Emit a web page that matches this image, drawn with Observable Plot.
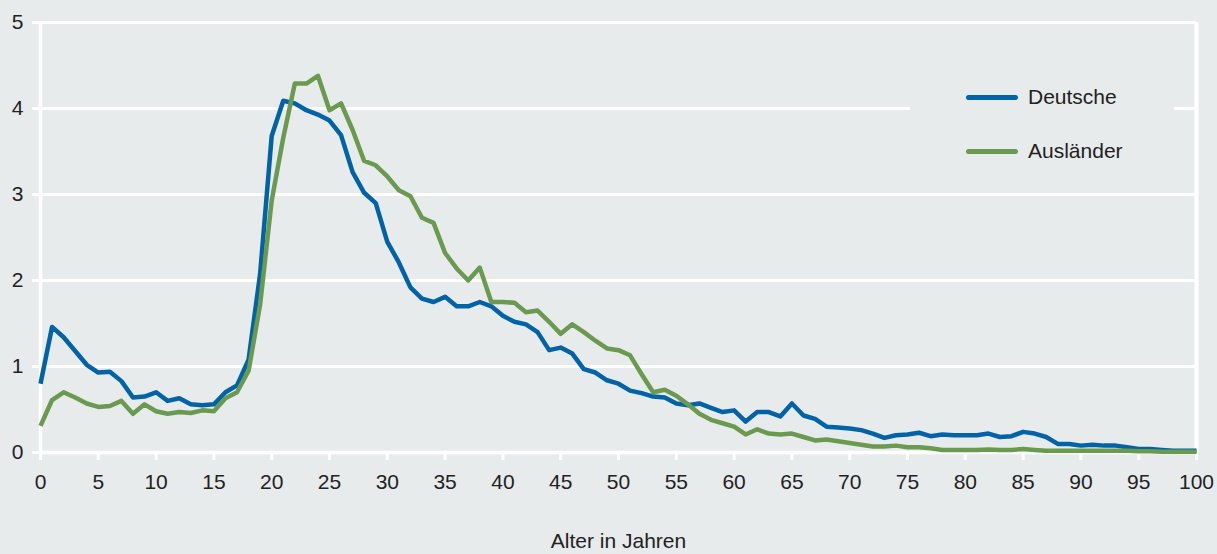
<!DOCTYPE html>
<html>
<head>
<meta charset="utf-8">
<script src="https://cdn.jsdelivr.net/npm/d3@7"></script>
<script src="https://cdn.jsdelivr.net/npm/@observablehq/plot@0.6"></script>
<style>
  html, body { margin: 0; padding: 0; background: #e8ebec; }
  body { width: 1217px; height: 554px; overflow: hidden; font-family: "Liberation Sans", Arial, sans-serif; }
  #wrap { position: relative; width: 1217px; height: 554px; }
  #legend { position: absolute; left: 910px; top: 66px; width: 264px; height: 116px; background: #e8ebec; }
  .item { position: absolute; left: 56px; height: 24px; display: flex; align-items: center; font-size: 21px; color: #222; }
  .swatch { width: 52px; height: 5px; border-radius: 3px; margin-right: 10px; }
</style>
</head>
<body>
<div id="wrap"></div>
<script>
const ages = [0,1,2,3,4,5,6,7,8,9,10,11,12,13,14,15,16,17,18,19,20,21,22,23,24,25,26,27,28,29,30,31,32,33,34,35,36,37,38,39,40,41,42,43,44,45,46,47,48,49,50,51,52,53,54,55,56,57,58,59,60,61,62,63,64,65,66,67,68,69,70,71,72,73,74,75,76,77,78,79,80,81,82,83,84,85,86,87,88,89,90,91,92,93,94,95,96,97,98,99,100];

const deutsche = [0.80,1.46,1.34,1.18,1.02,0.93,0.94,0.83,0.64,0.65,
  0.70,0.60,0.63,0.56,0.55,0.56,0.70,0.78,1.08,2.08,
  3.68,4.09,4.06,3.98,3.93,3.86,3.69,3.26,3.02,2.90,
  2.45,2.21,1.92,1.79,1.75,1.81,1.70,1.70,1.75,1.70,
  1.59,1.52,1.49,1.40,1.19,1.22,1.15,0.97,0.93,0.84,
  0.80,0.72,0.69,0.65,0.64,0.57,0.55,0.57,0.52,0.47,
  0.49,0.36,0.47,0.47,0.42,0.57,0.43,0.39,0.30,0.29,
  0.28,0.26,0.22,0.17,0.20,0.21,0.23,0.19,0.21,0.20,
  0.20,0.20,0.22,0.18,0.19,0.24,0.22,0.18,0.10,0.10,
  0.08,0.09,0.08,0.08,0.06,0.04,0.04,0.03,0.02,0.02,0.02];

const auslaender = [0.31,0.61,0.70,0.64,0.57,0.53,0.54,0.60,0.45,0.56,
  0.48,0.45,0.47,0.46,0.49,0.48,0.63,0.70,0.95,1.72,
  2.93,3.66,4.29,4.29,4.38,3.98,4.06,3.75,3.39,3.34,
  3.21,3.05,2.98,2.73,2.67,2.32,2.14,2.00,2.15,1.75,
  1.75,1.74,1.63,1.65,1.52,1.38,1.49,1.40,1.30,1.21,
  1.19,1.13,0.91,0.70,0.73,0.66,0.56,0.45,0.38,0.34,
  0.30,0.21,0.27,0.22,0.21,0.22,0.18,0.14,0.15,0.13,
  0.11,0.09,0.07,0.07,0.08,0.06,0.06,0.05,0.03,0.03,
  0.03,0.03,0.035,0.03,0.03,0.04,0.03,0.02,0.02,0.02,
  0.02,0.02,0.02,0.02,0.02,0.015,0.015,0.01,0.01,0.01,0.01];

const seriesNames = ["Deutsche", "Ausländer"];
const seriesColors = ["#0063a8", "#6a9a4f"];
const xTicks = [0,5,10,15,20,25,30,35,40,45,50,55,60,65,70,75,80,85,90,95,100];
const yTicks = [0,1,2,3,4,5];
const xLabel = "Alter in Jahren";

const table = [
  ...ages.map((a, i) => ({age: a, value: deutsche[i], series: seriesNames[0]})),
  ...ages.map((a, i) => ({age: a, value: auslaender[i], series: seriesNames[1]}))
];

const chart = Plot.plot({
  width: 1217,
  height: 554,
  marginLeft: 40,
  marginRight: 21,
  marginTop: 22,
  marginBottom: 102,
  style: {background: "transparent", fontFamily: "'Liberation Sans', Arial, sans-serif", fontSize: "21px", color: "#222"},
  x: {domain: [0, 100]},
  y: {domain: [0, 5]},
  color: {domain: seriesNames, range: seriesColors},
  marks: [
    Plot.ruleY(yTicks.slice(1), {stroke: "white", strokeWidth: 3}),
    Plot.ruleX([0], {stroke: "white", strokeWidth: 3.5}),
    Plot.ruleX([100], {stroke: "white", strokeWidth: 4}),
    Plot.axisY({ticks: yTicks, tickFormat: d => String(d), tickSize: 8, tickPadding: 9, stroke: "white", strokeWidth: 3, fill: "#222", fontSize: 21, label: null}),
    Plot.axisX({ticks: xTicks, tickFormat: d => String(d), tickSize: 8, tickPadding: 14, stroke: "white", strokeWidth: 3, fill: "#222", fontSize: 21, label: null}),
    Plot.ruleY([0], {stroke: "white", strokeWidth: 3.5}),
    Plot.line(table, {x: "age", y: "value", z: "series", stroke: "series", strokeWidth: 4.5, strokeLinejoin: "round", strokeLinecap: "butt"}),
    Plot.text([xLabel], {frameAnchor: "bottom", dy: 89, lineAnchor: "middle", fontSize: 21, fill: "#222"})
  ]
});

const wrap = document.getElementById("wrap");
wrap.appendChild(chart);

const legend = document.createElement("div");
legend.id = "legend";
seriesNames.forEach((name, i) => {
  const item = document.createElement("div");
  item.className = "item";
  item.style.top = (i === 0 ? 19 : 73) + "px";
  const sw = document.createElement("span");
  sw.className = "swatch";
  sw.style.background = seriesColors[i];
  const t = document.createElement("span");
  t.textContent = name;
  item.appendChild(sw);
  item.appendChild(t);
  legend.appendChild(item);
});
wrap.appendChild(legend);
</script>
</body>
</html>
